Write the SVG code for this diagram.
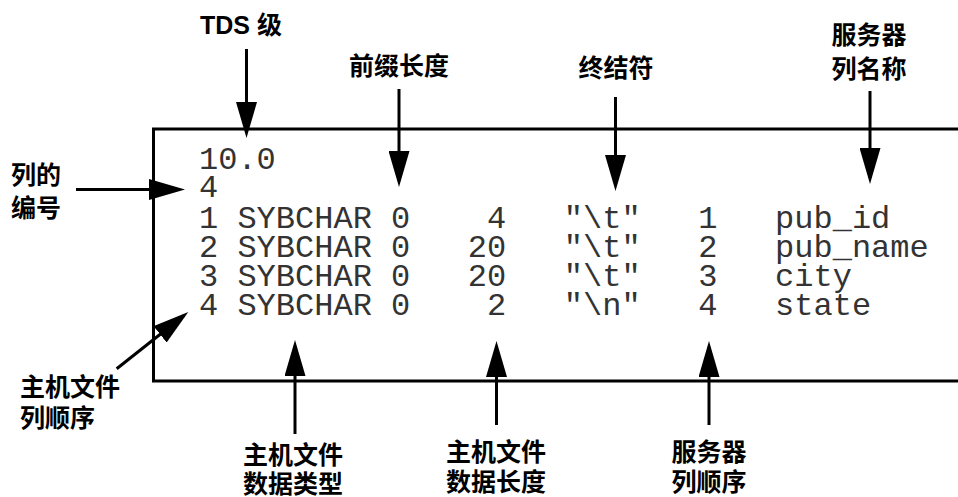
<svg xmlns="http://www.w3.org/2000/svg" width="958" height="497" viewBox="0 0 958 497">
<style>
.lbl{font-family:"Liberation Sans","Noto Sans CJK SC",sans-serif;font-weight:bold;font-size:25px;fill:#000}
.mid{text-anchor:middle}
.mono{font-family:"Liberation Mono","Courier New",monospace;font-size:32px;fill:#333;white-space:pre}
.arr{stroke:#000;stroke-width:3;fill:none;marker-end:url(#ah)}
</style>
<defs>
<marker id="ah" viewBox="0 0 36 21" refX="30" refY="10.5" markerUnits="userSpaceOnUse" markerWidth="36" markerHeight="21" orient="auto">
<path d="M0,0 L36,10.5 L0,21 Z" fill="#000"/>
</marker>
</defs>
<g id="box">
<rect x="153.5" y="129" width="820" height="252" fill="none" stroke="#000" stroke-width="3"/>
<text class="mono" xml:space="preserve" x="199" y="169">10.0</text>
<text class="mono" xml:space="preserve" x="199" y="197">4</text>
<text class="mono" xml:space="preserve" x="199" y="228">1 SYBCHAR 0    4   "\t"   1   pub_id</text>
<text class="mono" xml:space="preserve" x="199" y="257">2 SYBCHAR 0   20   "\t"   2   pub_name</text>
<text class="mono" xml:space="preserve" x="199" y="286">3 SYBCHAR 0   20   "\t"   3   city</text>
<text class="mono" xml:space="preserve" x="199" y="315">4 SYBCHAR 0    2   "\n"   4   state</text>
</g>
<g id="lbl-tds"><text class="lbl mid" x="241" y="34">TDS 级</text></g>
<g id="lbl-prefix"><text class="lbl mid" x="399" y="75">前缀长度</text></g>
<g id="lbl-term"><text class="lbl mid" x="616" y="77">终结符</text></g>
<g id="lbl-srvname"><text class="lbl mid" x="869" y="44">服务器</text><text class="lbl mid" x="869" y="78">列名称</text></g>
<g id="lbl-numcols"><text class="lbl" x="11" y="184">列的</text><text class="lbl" x="11" y="217">编号</text></g>
<g id="lbl-hostorder"><text class="lbl" x="20" y="396">主机文件</text><text class="lbl" x="20" y="427">列顺序</text></g>
<g id="lbl-hosttype"><text class="lbl mid" x="293" y="464">主机文件</text><text class="lbl mid" x="293" y="493">数据类型</text></g>
<g id="lbl-hostlen"><text class="lbl mid" x="496" y="461">主机文件</text><text class="lbl mid" x="496" y="491">数据长度</text></g>
<g id="lbl-srvorder"><text class="lbl mid" x="709" y="461">服务器</text><text class="lbl mid" x="709" y="491">列顺序</text></g>
<g id="connectors">
<line class="arr" x1="246.5" y1="49" x2="246.5" y2="132"/>
<line class="arr" x1="399" y1="89" x2="399" y2="181"/>
<line class="arr" x1="615.5" y1="97" x2="615.5" y2="185"/>
<line class="arr" x1="870" y1="91" x2="870" y2="178"/>
<line class="arr" x1="76" y1="189.5" x2="179" y2="189.5"/>
<line class="arr" x1="116.7" y1="368.7" x2="183.6" y2="315.7"/>
<line class="arr" x1="295" y1="434" x2="295" y2="346"/>
<line class="arr" x1="496.5" y1="425" x2="496.5" y2="347"/>
<line class="arr" x1="709" y1="425" x2="709" y2="347"/>
</g>
</svg>
